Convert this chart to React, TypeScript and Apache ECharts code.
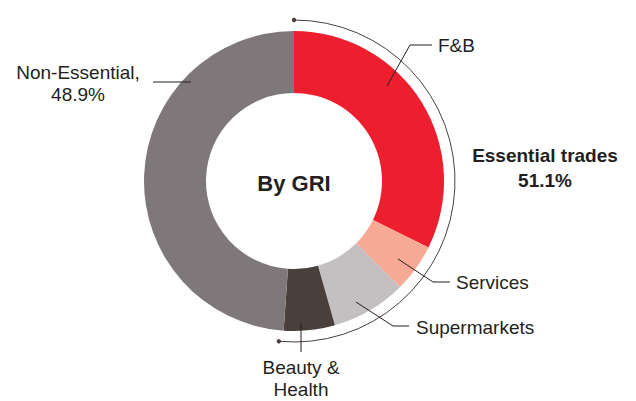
import React, { useEffect, useRef } from "react";
import * as echarts from "echarts";

const categories = ["F&B", "Services", "Supermarkets", "Beauty &\nHealth", "Non-Essential,\n48.9%"];
const values = [32.3, 5.2, 8.1, 5.5, 48.9];
const colors = ["#ED1F2E", "#F6AA95", "#C4C0C1", "#4B3F3C", "#7F787B"];
const essentialLabel = ["Essential trades", "51.1%"];
const centerTitle = "By GRI";

// label layout (positions of texts and their leader lines)
const labelPos = [
  { x: 438, y: 45, align: "left", line: [[387, 86], [410, 45], [432, 45]] },
  { x: 456, y: 282, align: "left", line: [[398, 259], [433, 282], [450, 282]] },
  { x: 416, y: 327, align: "left", line: [[356, 302], [393, 326], [409, 326]] },
  { x: 301, y: 378, align: "center", line: [[301, 323], [301, 352]] },
  { x: 78, y: 83, align: "center", line: [[191, 82], [153, 82]] },
];

const CX = 294;
const CY = 181;
const ARC_R = 161;
const FONT = "'Liberation Sans', Arial, sans-serif";

export default function App() {
  const ref = useRef<HTMLDivElement>(null);
  useEffect(() => {
    if (!ref.current) return;
    const chart = echarts.init(ref.current, null, { renderer: "svg" });
    const total = values.reduce((a, b) => a + b, 0);
    const essential = values.slice(0, 4).reduce((a, b) => a + b, 0);
    const a0 = -Math.PI / 2;
    const a1 = -Math.PI / 2 + (2 * Math.PI * essential) / total + 0.025;
    const arcColor = "#4B3F3C";
    const lines = labelPos.map((l) => ({
      type: "polyline",
      shape: { points: l.line },
      style: { stroke: "#231F20", lineWidth: 1, fill: "none" },
      z: 10,
    }));
    chart.setOption({
      animation: false,
      graphic: [
        ...lines,
        {
          type: "arc",
          shape: { cx: CX, cy: CY, r: ARC_R, startAngle: a0, endAngle: a1, clockwise: true },
          style: { stroke: arcColor, lineWidth: 1, fill: "none" },
        },
        { type: "circle", shape: { cx: CX + ARC_R * Math.cos(a0), cy: CY + ARC_R * Math.sin(a0), r: 2.2 }, style: { fill: arcColor } },
        { type: "circle", shape: { cx: CX + ARC_R * Math.cos(a1), cy: CY + ARC_R * Math.sin(a1), r: 2.2 }, style: { fill: arcColor } },
        {
          type: "text",
          x: CX,
          y: CY + 2,
          style: {
            text: centerTitle,
            font: `bold 22px ${FONT}`,
            fill: "#231F20",
            align: "center",
            verticalAlign: "middle",
          },
        },
        {
          type: "text",
          x: 545,
          y: 168,
          style: {
            text: essentialLabel.join("\n"),
            font: `bold 19px ${FONT}`,
            lineHeight: 25,
            fill: "#231F20",
            align: "center",
            verticalAlign: "middle",
          },
        },
      ],
      series: [
        {
          type: "pie",
          center: [CX, CY],
          radius: [88, 150],
          startAngle: 90,
          clockwise: true,
          silent: true,
          avoidLabelOverlap: false,
          data: categories.map((c, i) => ({ name: c, value: values[i], itemStyle: { color: colors[i] } })),
          label: {
            show: true,
            formatter: "{b}",
            color: "#231F20",
            fontFamily: FONT,
            fontSize: 19,
            lineHeight: 22,
            overflow: "none",
            width: 200,
          },
          labelLine: { show: false },
          labelLayout: (p: any) => {
            const l = labelPos[p.dataIndex];
            return {
              x: l.x,
              y: l.y,
              align: l.align,
              verticalAlign: "middle",
            };
          },
        },
      ],
    });
    return () => chart.dispose();
  }, []);
  return <div ref={ref} style={{ position: "fixed", left: 0, top: 0, width: 636, height: 401, background: "#fff" }} />;
}
